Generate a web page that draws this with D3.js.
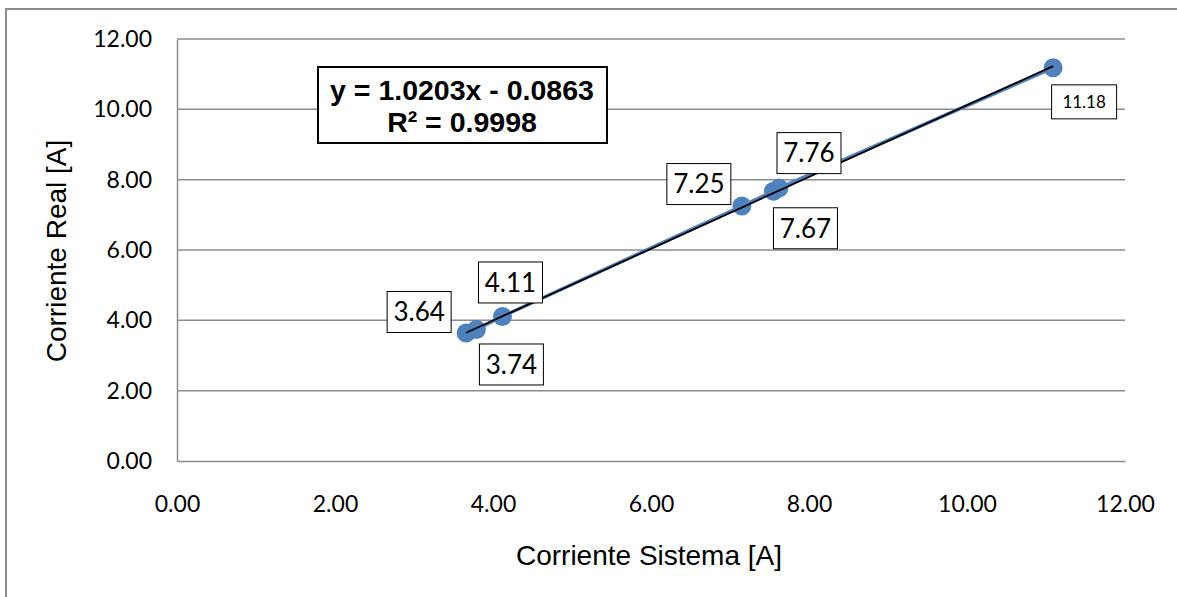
<!DOCTYPE html>
<html><head><meta charset="utf-8">
<script src="https://cdn.jsdelivr.net/npm/d3@7"></script>
<style>body{margin:0;background:#fff;} svg{display:block;}</style>
</head><body>
<script>
const xValues = [3.66, 3.79, 4.12, 7.15, 7.55, 7.62, 11.09];
const yValues = [3.64, 3.74, 4.11, 7.25, 7.67, 7.76, 11.18];
const pointLabels = ["3.64", "3.74", "4.11", "7.25", "7.67", "7.76", "11.18"];
const tickValues = [0, 2, 4, 6, 8, 10, 12];
const slope = 1.0203, intercept = -0.0863;
const eqLines = ["y = 1.0203x - 0.0863", "R² = 0.9998"];
const xTitle = "Corriente Sistema [A]";
const yTitle = "Corriente Real [A]";

// layout (pixel offsets of label boxes relative to their points)
const labelOffsets = [[-47,-21],[35,35],[8,-34],[-43,-22],[32,37],[30,-35],[31,34]];
const labelSizes = [26,26,26,26,26,26,17];

const W = 1177, H = 597;
const svg = d3.select("body").append("svg").attr("width", W).attr("height", H);
svg.append("rect").attr("x", 6).attr("y", 9).attr("width", W).attr("height", H)
  .attr("fill", "#fff").attr("stroke", "#8c8c8c").attr("stroke-width", 2);

const x = d3.scaleLinear().domain([0, 12]).range([177, 1125]);
const y = d3.scaleLinear().domain([0, 12]).range([461, 39]);

// gridlines
svg.append("g").selectAll("line").data(tickValues.filter(d => d > 0)).join("line")
  .attr("x1", x(0)).attr("x2", x(12)).attr("y1", d => y(d)).attr("y2", d => y(d))
  .attr("stroke", "#8c8c8c").attr("stroke-width", 1.5);

// axes
const xAxis = svg.append("g").attr("transform", `translate(0,${y(0)})`)
  .call(d3.axisBottom(x).tickValues(tickValues).tickFormat(d3.format(".2f")).tickSize(0).tickPadding(35));
const yAxis = svg.append("g").attr("transform", `translate(${x(0)},0)`)
  .call(d3.axisLeft(y).tickValues(tickValues).tickFormat(d3.format(".2f")).tickSize(0).tickPadding(25));
[xAxis, yAxis].forEach(g => {
  g.select(".domain").attr("stroke", "#8c8c8c").attr("stroke-width", 1.5);
  g.selectAll("text").attr("font-family", "Lato, 'Open Sans', sans-serif").attr("font-size", 23).attr("fill", "#000");
});

// axis titles
svg.append("text").attr("x", 649).attr("y", 565).attr("text-anchor", "middle")
  .attr("font-family", "'Liberation Sans', Arial, sans-serif").attr("font-size", 28).text(xTitle);
svg.append("text").attr("transform", "translate(66,251) rotate(-90)").attr("text-anchor", "middle")
  .attr("font-family", "'Liberation Sans', Arial, sans-serif").attr("font-size", 28).text(yTitle);

// series line
const pts = xValues.map((v, i) => [v, yValues[i]]);
svg.append("path").datum(pts)
  .attr("d", d3.line().x(d => x(d[0])).y(d => y(d[1])))
  .attr("fill", "none").attr("stroke", "#4f81bd").attr("stroke-width", 3.5);

svg.append("g").selectAll("circle").data(pts).join("circle")
  .attr("cx", d => x(d[0])).attr("cy", d => y(d[1])).attr("r", 9.5)
  .attr("fill", "#4f81bd");

// trendline
const xmin = d3.min(xValues), xmax = d3.max(xValues);
svg.append("line")
  .attr("x1", x(xmin)).attr("y1", y(slope * xmin + intercept))
  .attr("x2", x(xmax)).attr("y2", y(slope * xmax + intercept))
  .attr("stroke", "#000").attr("stroke-width", 1.8);

// data labels
const lg = svg.append("g").selectAll("g").data(pts).join("g")
  .attr("transform", (d, i) => `translate(${x(d[0]) + labelOffsets[i][0]},${y(d[1]) + labelOffsets[i][1]})`);
lg.each(function(d, i) {
  const g = d3.select(this);
  const fs = labelSizes[i];
  g.append("text").attr("text-anchor", "middle").attr("dy", "0.36em")
    .attr("font-family", "Lato, 'Open Sans', sans-serif").attr("font-size", fs).attr("fill", "#000")
    .text(pointLabels[i]);
  const bw = fs > 20 ? 64 : 65, bh = fs > 20 ? 41 : 34;
  g.insert("rect", "text").attr("x", -bw / 2).attr("y", -bh / 2).attr("width", bw).attr("height", bh)
    .attr("fill", "#fff").attr("stroke", "#000").attr("stroke-width", 1);
});

// equation box
const eq = svg.append("g");
eq.append("rect").attr("x", 318).attr("y", 67).attr("width", 289).attr("height", 76)
  .attr("fill", "#fff").attr("stroke", "#000").attr("stroke-width", 2);
eq.selectAll("text").data(eqLines).join("text")
  .attr("x", 462).attr("y", (d, i) => 100 + i * 32).attr("text-anchor", "middle")
  .attr("font-family", "'Liberation Sans', Arial, sans-serif").attr("font-weight", "bold")
  .attr("font-size", 28.5).attr("fill", "#000").text(d => d);
</script>
</body></html>
